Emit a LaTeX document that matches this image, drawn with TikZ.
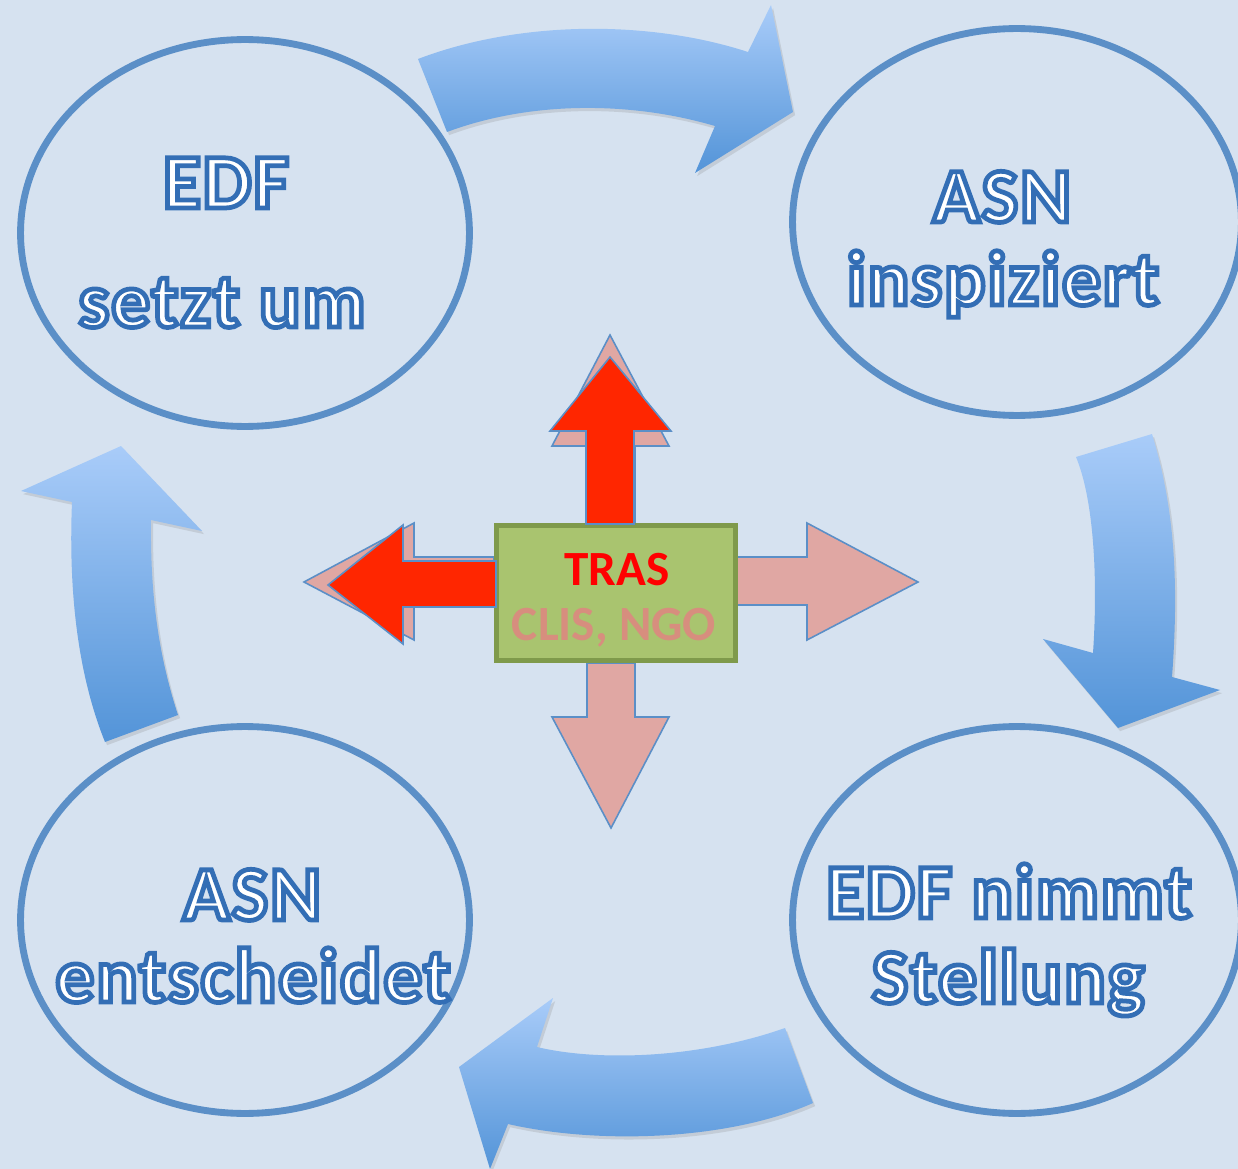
\documentclass[tikz,border=0pt]{standalone}
\usepackage{fontspec}
\setmainfont{Carlito}
\newfontfamily\ringfont{Carlito}[LetterSpace=2.5]
\usetikzlibrary{shapes.geometric,shadows}
\definecolor{bg}{HTML}{D6E2F0}
\definecolor{ringblue}{HTML}{5B8FC7}
\definecolor{arrtop}{HTML}{A9CCF9}
\definecolor{arrbot}{HTML}{5394D8}
\definecolor{pinkarr}{HTML}{E0A7A3}
\definecolor{redarr}{HTML}{FF2600}
\definecolor{boxgreen}{HTML}{A9C46F}
\definecolor{boxedge}{HTML}{7F9A4B}
\definecolor{clis}{HTML}{D78E7E}
% white letters with a blue outline (text rendering mode 2: fill + stroke)
\newcommand\outlinetext[1]{\special{pdf:literal direct 2 Tr 2.7 w 0.20 0.43 0.71 RG}#1\special{pdf:literal direct 0 Tr}}
\tikzset{
  ring/.style={ellipse, draw=ringblue, line width=3.9pt, fill=bg,
    minimum width=8.98cm, minimum height=7.74cm, inner sep=0pt,
    drop shadow={opacity=0.18, shadow xshift=1pt, shadow yshift=-1.5pt}},
  ringtext/.style={anchor=base, text=white, font=\ringfont\fontsize{44}{50}\selectfont\bfseries, inner sep=0pt},
  bigarrow/.style={top color=arrtop, bottom color=arrbot, draw=none,
    drop shadow={opacity=0.22, shadow xshift=1.2pt, shadow yshift=-1.8pt}},
  pinkarrow/.style={fill=pinkarr, draw=ringblue, line width=0.9pt, line join=miter},
  redarrow/.style={fill=redarr, draw=ringblue, line width=0.9pt, line join=miter},
  boxtext/.style={anchor=base, font=\fontsize{28}{32}\selectfont\bfseries, inner sep=0pt}
}
\begin{document}
\begin{tikzpicture}[x=0.02cm, y=-0.02cm]
\fill[bg] (0,0) rectangle (1238,1169);
\useasboundingbox (0,0) rectangle (1238,1169);

% ellipses
\node[ring] (e1) at (245,233) {};
\node[ring] (e2) at (1017,222) {};
\node[ring] (e3) at (245,920) {};
\node[ring] (e4) at (1017,920) {};

% curved cycle arrows
\path[bigarrow] (418,59) .. controls (520,20) and (650,20) .. (748,52) -- (771,5) -- (793,112)
  -- (695,173) -- (715,126) .. controls (630,101) and (530,101) .. (447,132) -- cycle;
\path[bigarrow] (1076,457) -- (1152,434) .. controls (1172,500) and (1180,570) .. (1172,677)
  -- (1220,690) -- (1118,728) -- (1043,639) -- (1093,653) .. controls (1098,580) and (1094,500) .. (1076,457) -- cycle;
\path[bigarrow] (785,1028) -- (813,1103) .. controls (730,1140) and (600,1145) .. (508,1124)
  -- (490,1169) -- (459,1067) -- (553,998) -- (537,1047) .. controls (600,1062) and (700,1058) .. (785,1028) -- cycle;
\path[bigarrow] (105,742) -- (178,715) .. controls (160,660) and (150,600) .. (151,520)
  -- (202,531) -- (121,446) -- (21,491) -- (72,502) .. controls (68,600) and (80,680) .. (105,742) -- cycle;

% ellipse texts
\node[ringtext] (t1a) at (226,208) {\outlinetext{EDF}};
\node[ringtext] (t1b) at (222,327) {\outlinetext{setzt um}};
\node[ringtext] (t2a) at (1002,222) {\outlinetext{ASN}};
\node[ringtext] (t2b) at (1003,305) {\outlinetext{inspiziert}};
\node[ringtext] (t3a) at (252,920) {\outlinetext{ASN}};
\node[ringtext] (t3b) at (253,1002) {\outlinetext{entscheidet}};
\node[ringtext] (t4a) at (1009,918) {\outlinetext{EDF nimmt}};
\node[ringtext] (t4b) at (1008,1003) {\outlinetext{Stellung}};

% pink arrows
\draw[pinkarrow] (587,523) -- (587,446) -- (552,446) -- (610,335) -- (669,446) -- (635,446) -- (635,523) -- cycle;
\draw[pinkarrow] (494,557) -- (414,557) -- (414,523) -- (304,582) -- (414,640) -- (414,605) -- (494,605) -- cycle;
\draw[pinkarrow] (587,663) -- (587,717) -- (552,717) -- (611,828) -- (669,717) -- (635,717) -- (635,663) -- cycle;
\draw[pinkarrow] (737,557) -- (807,557) -- (807,523) -- (918,582) -- (807,640) -- (807,605) -- (737,605) -- cycle;

% center box
\node[draw=boxedge, fill=boxgreen, line width=2.6pt, minimum width=4.78cm, minimum height=2.70cm, inner sep=0pt] (box) at (616,593) {};
\node[boxtext, text=red] (tras) at (617,585) {TRAS};
\node[boxtext, text=clis] (clisngo) at (614,640) {CLIS, NGO};

% red arrows
\draw[redarrow] (586,524) -- (586,431) -- (550,431) -- (610,357) -- (671,431) -- (634,431) -- (634,524) -- cycle;
\draw[redarrow] (496,561) -- (403,561) -- (403,525) -- (328,585) -- (403,644) -- (403,607) -- (496,607) -- cycle;
\end{tikzpicture}
\end{document}
